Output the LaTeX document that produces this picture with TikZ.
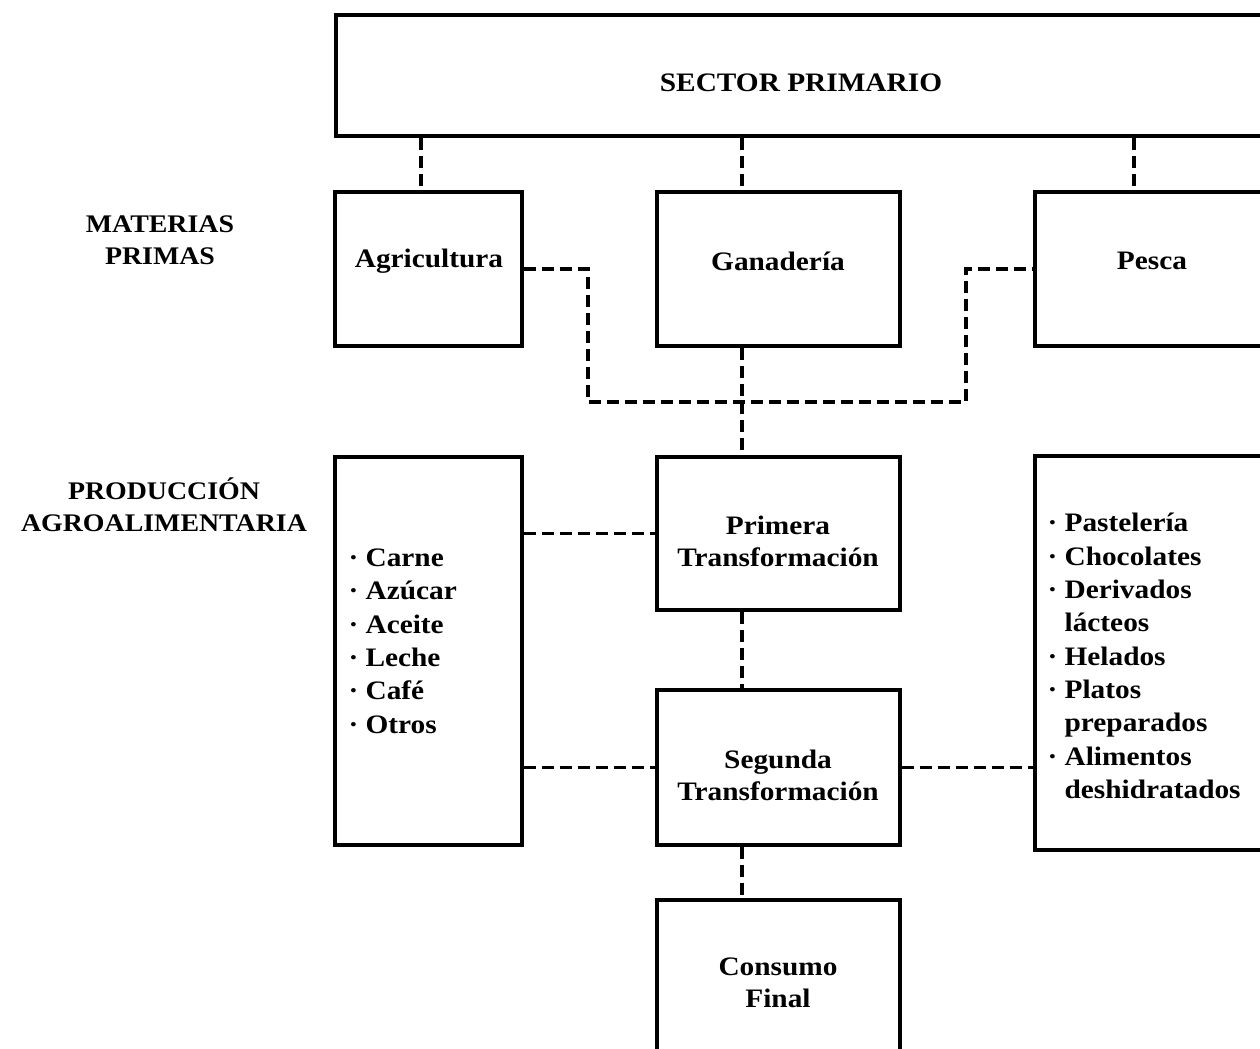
\documentclass[tikz,border=0pt]{standalone}
\usepackage{fontspec}
\setmainfont{Liberation Serif}[FakeStretch=1.1]
\usetikzlibrary{positioning}

\tikzset{every picture/.style={line width=0.75pt}}
\tikzset{
  box/.style={draw, line width=2.5pt, inner sep=0pt},
  txt/.style={align=center, inner sep=0pt},
  link/.style={line width=2.6pt, dash pattern=on 9pt off 4.5pt},
  lbl/.style={align=center, font=\bfseries\fontsize{19}{24}\selectfont},
  items/.style={align=left, anchor=west, inner sep=0pt, font=\bfseries\fontsize{20}{25}\selectfont}
}

\begin{document}
\begin{tikzpicture}[x=0.75pt,y=0.75pt,yscale=-1,xscale=1,
  font=\bfseries\fontsize{20}{24}\selectfont]
\useasboundingbox (0,0) rectangle (1260,1049);
\clip (0,0) rectangle (1260,1049);

% first row
\node[box, minimum width=697.5pt, minimum height=90.75pt] (sector) at (801,75.5) {};
\node[txt] (sectortxt) at (801,83) {SECTOR PRIMARIO};

% materias primas
\node[box, minimum width=140.25pt, minimum height=115.5pt] (agri) at (428.5,269) {};
\node[box, minimum width=182.25pt, minimum height=115.5pt] (gana) at (778.5,269) {};
\node[box, minimum width=175.5pt, minimum height=115.5pt] (pesca) at (1152,269) {};
\node[txt] (agritxt) at (429,261) {Agricultura};
\node[txt] (ganatxt) at (778,261) {Ganadería};
\node[txt] (pescatxt) at (1152,261) {Pesca};

% transformaciones
\node[box, minimum width=182.25pt, minimum height=114.75pt] (primera) at (778.5,533.5) {};
\node[box, minimum width=182.25pt, minimum height=116.25pt] (segunda) at (778.5,767.5) {};
\node[box, minimum width=182.25pt, minimum height=124.5pt] (consumo) at (778.5,983) {};
\node[txt] (primeratxt) at (778,541) {Primera\\Transformación};
\node[txt] (segundatxt) at (778,775) {Segunda\\Transformación};
\node[txt] (consumotxt) at (778,983) {Consumo\\Final};

% product lists
\node[box, minimum width=140.25pt, minimum height=291pt] (leftbox) at (428.5,651) {};
\node[box, minimum width=176.25pt, minimum height=295.5pt] (rightbox) at (1152.5,653) {};
\node[items] (leftlist) at (348,641) {· Carne\\· Azúcar\\· Aceite\\· Leche\\· Café\\· Otros};
\node[items] (rightlist) at (1047,656) {· Pastelería\\· Chocolates\\· Derivados\\\phantom{· }lácteos\\· Helados\\· Platos\\\phantom{· }preparados\\· Alimentos\\\phantom{· }deshidratados};

% side labels
\node[lbl] (materias) at (160,240) {MATERIAS\\PRIMAS};
\node[lbl] (produccion) at (164,505) {PRODUCCIÓN\\AGROALIMENTARIA};

% connectors
\coordinate (ax) at (421,0);
\coordinate (gx) at (742,0);
\coordinate (px) at (1134,0);
\coordinate (jl) at (588,402);
\coordinate (jr) at (966,402);
\draw[link] (sector.south -| ax) -- (agri.north -| ax);
\draw[link] (sector.south -| gx) -- (gana.north -| gx);
\draw[link] (sector.south -| px) -- (pesca.north -| px);
\draw[link] (agri.east) -- (agri.east -| jl) -- (jl) -- (jr) -- (pesca.west -| jr) -- (pesca.west);
\draw[link] (gana.south -| gx) -- (primera.north -| gx);
\draw[link] (primera.south -| gx) -- (segunda.north -| gx);
\draw[link] (segunda.south -| gx) -- (consumo.north -| gx);
\draw[link] (primera.west -| leftbox.east) -- (primera.west);
\draw[link] (segunda.west -| leftbox.east) -- (segunda.west);
\draw[link] (segunda.east) -- (segunda.east -| rightbox.west);

\end{tikzpicture}
\end{document}
